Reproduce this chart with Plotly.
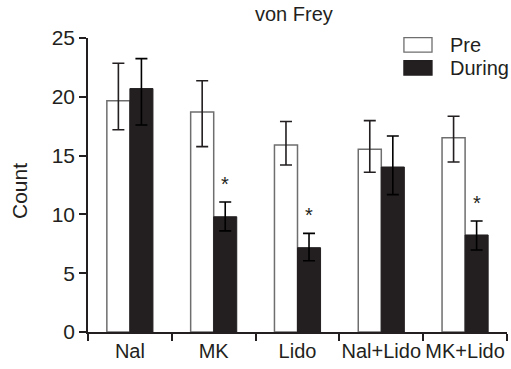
import plotly.graph_objects as go

categories = ["Nal", "MK", "Lido", "Nal+Lido", "MK+Lido"]
pre = [19.67, 18.7, 15.9, 15.53, 16.52]
pre_err_plus = [3.18, 2.67, 2.0, 2.44, 1.82]
pre_err_minus = [2.47, 2.94, 1.7, 1.95, 2.06]
during = [20.7, 9.8, 7.17, 14.03, 8.25]
during_err_plus = [2.55, 1.25, 1.22, 2.64, 1.19]
during_err_minus = [3.1, 1.2, 1.11, 2.35, 1.28]
significant = [False, True, True, False, True]
y_ticks = [0, 5, 10, 15, 20, 25]

FONT = "Arial, Liberation Sans, sans-serif"
DARK = "#231f20"
GREY = "#6e6e6e"
BARGAP = 0.45

fig = go.Figure()
fig.add_trace(go.Bar(
    x=categories, y=pre, name="Pre",
    marker=dict(color="white", line=dict(color=GREY, width=1.5)),
    error_y=dict(type="data", symmetric=False, array=pre_err_plus,
                 arrayminus=pre_err_minus, color=DARK, thickness=1.6, width=6),
    showlegend=False,
))
fig.add_trace(go.Bar(
    x=categories, y=during, name="During",
    marker=dict(color=DARK, line=dict(color=DARK, width=1)),
    error_y=dict(type="data", symmetric=False, array=during_err_plus,
                 arrayminus=during_err_minus, color="black", thickness=1.6, width=6),
    showlegend=False,
))

# significance asterisks above "During" bars
offset = (1 - BARGAP) / 4
for i, (v, e, s) in enumerate(zip(during, during_err_plus, significant)):
    if s:
        fig.add_annotation(x=i + offset, y=v + e, xref="x", yref="y",
                           text="*", showarrow=False, yanchor="middle", yshift=18,
                           font=dict(family=FONT, size=20, color=DARK))

# title
fig.add_annotation(x=0.492, y=1.082, xref="paper", yref="paper", text="von Frey",
                   showarrow=False, xanchor="center", yanchor="middle",
                   font=dict(family=FONT, size=20, color=DARK))
# y-axis title
fig.add_annotation(x=-0.162, y=0.48, xref="paper", yref="paper", text="Count",
                   textangle=-90, showarrow=False, xanchor="center", yanchor="middle",
                   font=dict(family=FONT, size=21, color=DARK))

# custom legend
legend_items = [("Pre", "white", GREY, 0.952, 1.001), ("During", DARK, DARK, 0.874, 0.923)]
for name, fill, line, y0, y1 in legend_items:
    fig.add_shape(type="rect", xref="paper", yref="paper", x0=0.754, x1=0.821,
                  y0=y0, y1=y1, fillcolor=fill, line=dict(color=line, width=1.3))
    fig.add_annotation(x=0.858, y=(y0 + y1) / 2, xref="paper", yref="paper", text=name,
                       showarrow=False, xanchor="left", yanchor="middle",
                       font=dict(family=FONT, size=20, color=DARK))

fig.update_layout(
    width=511, height=369,
    margin=dict(l=88, r=4, t=38, b=37),
    paper_bgcolor="white", plot_bgcolor="white",
    barmode="group", bargap=BARGAP, bargroupgap=0,
    font=dict(family=FONT, size=20, color=DARK),
    xaxis=dict(showline=True, linecolor=DARK, linewidth=1.5, ticks="outside",
               tickson="boundaries", ticklen=7, tickwidth=1.5, tickcolor=DARK,
               showgrid=False, tickangle=0, tickfont=dict(size=20)),
    yaxis=dict(range=[0, 25], tickvals=y_ticks, showline=True, linecolor=DARK,
               linewidth=1.5, ticks="outside", ticklen=7, tickwidth=1.5,
               tickcolor=DARK, showgrid=False, zeroline=False,
               tickfont=dict(size=21)),
)

fig.write_html("out.html")
